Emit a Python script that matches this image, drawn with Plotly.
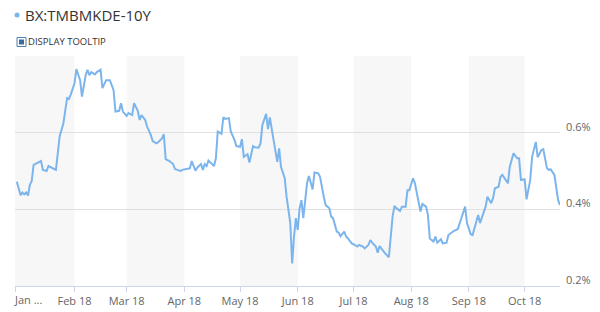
import plotly.graph_objects as go

# ---------------- data ----------------
dates = [
    "2018-01-01","2018-01-02","2018-01-03","2018-01-04","2018-01-05","2018-01-06","2018-01-07","2018-01-08",
    "2018-01-09","2018-01-10","2018-01-12","2018-01-14","2018-01-15","2018-01-17","2018-01-18","2018-01-20",
    "2018-01-22","2018-01-24","2018-01-25","2018-01-26","2018-01-28","2018-01-29","2018-01-30","2018-02-01",
    "2018-02-02","2018-02-04","2018-02-05","2018-02-07","2018-02-08","2018-02-09","2018-02-10","2018-02-12",
    "2018-02-13","2018-02-14","2018-02-15","2018-02-16","2018-02-18","2018-02-20",
    "2018-02-22","2018-02-23","2018-02-25","2018-02-26","2018-02-27","2018-03-01","2018-03-02","2018-03-04",
    "2018-03-05","2018-03-07","2018-03-08","2018-03-09","2018-03-11","2018-03-12","2018-03-14","2018-03-15",
    "2018-03-17","2018-03-18","2018-03-20","2018-03-21","2018-03-22","2018-03-24","2018-03-26","2018-03-27",
    "2018-03-28","2018-03-30","2018-03-31","2018-04-03","2018-04-04","2018-04-05","2018-04-07","2018-04-08",
    "2018-04-10","2018-04-11",
    "2018-04-12","2018-04-13","2018-04-14","2018-04-16","2018-04-17","2018-04-18","2018-04-19","2018-04-21",
    "2018-04-22","2018-04-23","2018-04-25","2018-04-26","2018-04-28","2018-04-29","2018-05-01","2018-05-02",
    "2018-05-03","2018-05-05","2018-05-06","2018-05-08","2018-05-09","2018-05-11","2018-05-12","2018-05-13",
    "2018-05-15","2018-05-16","2018-05-17","2018-05-19","2018-05-21","2018-05-22","2018-05-23","2018-05-25",
    "2018-05-26","2018-05-28","2018-05-29","2018-05-30","2018-05-31","2018-06-01","2018-06-02",
    "2018-06-03","2018-06-04","2018-06-06","2018-06-07","2018-06-09","2018-06-10","2018-06-12","2018-06-13",
    "2018-06-15","2018-06-16","2018-06-18","2018-06-19","2018-06-20","2018-06-22","2018-06-23","2018-06-24",
    "2018-06-26","2018-06-27","2018-06-28","2018-06-30","2018-07-01","2018-07-03","2018-07-04","2018-07-06",
    "2018-07-07","2018-07-09","2018-07-10","2018-07-11","2018-07-13","2018-07-14","2018-07-15","2018-07-17",
    "2018-07-18","2018-07-20","2018-07-22","2018-07-23","2018-07-24","2018-07-26","2018-07-27","2018-07-29",
    "2018-07-30","2018-07-31","2018-08-02","2018-08-03","2018-08-05","2018-08-06","2018-08-07","2018-08-09",
    "2018-08-10","2018-08-11","2018-08-13","2018-08-14","2018-08-15","2018-08-17","2018-08-18","2018-08-20",
    "2018-08-21","2018-08-23","2018-08-24","2018-08-26","2018-08-27","2018-08-28","2018-08-30","2018-08-31",
    "2018-09-02","2018-09-03","2018-09-04","2018-09-06","2018-09-07","2018-09-09","2018-09-10","2018-09-11",
    "2018-09-13","2018-09-14","2018-09-15","2018-09-17","2018-09-18","2018-09-19","2018-09-21","2018-09-22",
    "2018-09-23","2018-09-25","2018-09-27","2018-09-28","2018-09-29","2018-10-01","2018-10-02","2018-10-04",
    "2018-10-05","2018-10-07","2018-10-08","2018-10-10","2018-10-11","2018-10-13","2018-10-14","2018-10-15",
    "2018-10-17","2018-10-18","2018-10-19","2018-10-20",
]

yields = [
    0.472,0.450,0.437,0.444,0.439,0.444,0.436,0.464,
    0.474,0.516,0.520,0.526,0.503,0.500,0.513,0.507,
    0.503,0.590,0.607,0.624,0.690,0.688,0.700,0.729,
    0.766,0.737,0.694,0.750,0.764,0.750,0.758,0.752,
    0.758,0.761,0.764,0.716,0.737,0.737,
    0.711,0.655,0.657,0.677,0.655,0.644,0.651,0.646,
    0.677,0.657,0.633,0.646,0.633,0.616,0.594,0.578,
    0.572,0.575,0.585,0.596,0.531,0.526,0.518,0.505,
    0.504,0.500,0.503,0.505,0.507,0.526,0.501,0.509,
    0.518,0.503,
    0.518,0.513,0.527,0.518,0.513,0.533,0.603,0.597,
    0.640,0.636,0.638,0.603,0.581,0.565,0.563,0.583,
    0.537,0.544,0.522,0.565,0.562,0.561,0.572,0.620,
    0.649,0.609,0.640,0.581,0.524,0.559,0.511,0.481,
    0.433,0.364,0.259,0.329,0.377,0.346,0.403,
    0.424,0.377,0.468,0.487,0.452,0.496,0.494,0.485,
    0.433,0.411,0.403,0.381,0.377,0.342,0.339,0.330,
    0.342,0.329,0.324,0.311,0.309,0.303,0.307,0.303,
    0.298,0.307,0.320,0.313,0.303,0.287,0.304,0.289,
    0.285,0.275,0.381,0.409,0.403,0.396,0.407,0.407,
    0.450,0.450,0.481,0.468,0.416,0.394,0.414,0.407,
    0.385,0.324,0.316,0.329,0.313,0.322,0.311,0.313,
    0.333,0.342,0.344,0.348,0.364,0.377,0.407,0.364,
    0.335,0.333,0.351,0.385,0.364,0.394,0.407,0.433,
    0.416,0.429,0.455,0.459,0.485,0.490,0.474,0.468,
    0.511,0.546,0.533,0.533,0.477,0.478,0.426,0.477,
    0.537,0.576,0.536,0.555,0.557,0.507,0.503,0.504,
    0.490,0.459,0.424,0.411,
]

series_name = "BX:TMBMKDE-10Y"
month_ticks = ["2018-02-01","2018-03-01","2018-04-01","2018-05-01","2018-06-01",
               "2018-07-01","2018-08-01","2018-09-01","2018-10-01"]
month_labels = ["Feb 18","Mar 18","Apr 18","May 18","Jun 18","Jul 18","Aug 18","Sep 18","Oct 18"]
first_tick_label = "Jan ..."
band_starts = ["2017-12-31","2018-03-01","2018-05-01","2018-07-01","2018-09-01"]
band_ends = ["2018-02-01","2018-04-01","2018-06-01","2018-08-01","2018-10-01"]
y_ticks = [0.2, 0.4, 0.6, 0.8]
y_labels = ["0.2%", "0.4%", "0.6%", ""]
x_range = ["2017-12-31", "2018-10-20"]

# ---------------- layout geometry ----------------
FW, FH = 600, 312
ML, MR, MT, MB = 15, 40, 56, 26
PW, PH = FW - ML - MR, FH - MT - MB

def px(p):
    return (p - ML) / PW

def py(p):
    return (FH - MB - p) / PH

FONT = "Open Sans, Lucida Grande, DejaVu Sans, sans-serif"
LINE_COLOR = "#7cb5ec"

fig = go.Figure()
fig.add_trace(go.Scatter(
    x=dates, y=yields, mode="lines", name=series_name,
    line=dict(color=LINE_COLOR, width=2),
    hoverinfo="skip",
))

shapes = []
for s, e in zip(band_starts, band_ends):
    shapes.append(dict(type="rect", xref="x", yref="paper", x0=s, x1=e, y0=0, y1=1,
                       fillcolor="#f7f7f7", line=dict(width=0), layer="below"))

# legend dot next to title
shapes.append(dict(type="circle", xref="paper", yref="paper",
                   x0=px(14.5), x1=px(19.5), y0=py(17.5), y1=py(12.5),
                   fillcolor=LINE_COLOR, line=dict(width=0)))
# checkbox
shapes.append(dict(type="rect", xref="paper", yref="paper",
                   x0=px(17), x1=px(26), y0=py(46.5), y1=py(37.5),
                   fillcolor="white", line=dict(color="#4a7fb0", width=1)))
shapes.append(dict(type="rect", xref="paper", yref="paper",
                   x0=px(19), x1=px(24), y0=py(44.5), y1=py(39.5),
                   fillcolor="#3a6d9e", line=dict(width=0)))

annotations = [
    dict(text=series_name, xref="paper", yref="paper", x=px(23), y=py(15),
         xanchor="left", yanchor="middle", showarrow=False,
         font=dict(family=FONT, size=15, color="#333333")),
    dict(text="DISPLAY TOOLTIP", xref="paper", yref="paper", x=px(25.5), y=py(42),
         xanchor="left", yanchor="middle", showarrow=False,
         font=dict(family=FONT, size=9.5, color="#333333")),
    dict(text=first_tick_label, xref="x", yref="paper", x=x_range[0], y=py(299),
         xanchor="left", yanchor="middle", showarrow=False, xshift=-3,
         font=dict(family=FONT, size=11, color="#666666")),
]

fig.update_layout(
    width=FW, height=FH,
    margin=dict(l=ML, r=MR, t=MT, b=MB, autoexpand=False),
    paper_bgcolor="white", plot_bgcolor="white",
    showlegend=False,
    shapes=shapes, annotations=annotations,
    font=dict(family=FONT, size=11, color="#666666"),
    xaxis=dict(
        type="date", range=x_range, automargin=False,
        tickvals=[x_range[0]] + month_ticks, ticktext=[""] + month_labels,
        ticks="outside", ticklen=5, tickcolor="#ccd6eb",
        showline=True, linecolor="#ccd6eb", linewidth=1,
        showgrid=False, zeroline=False,
        tickfont=dict(family=FONT, size=11, color="#666666"),
    ),
    yaxis=dict(
        side="right", range=[0.2, 0.8], automargin=False,
        tickvals=y_ticks, ticktext=y_labels,
        ticks="", showline=False, zeroline=False,
        showgrid=True, gridcolor="#e0e0e0", gridwidth=1,
        ticklabelstandoff=5, ticklabelshift=-6,
        tickfont=dict(family=FONT, size=11, color="#666666"),
    ),
)

fig.write_html("out.html")
